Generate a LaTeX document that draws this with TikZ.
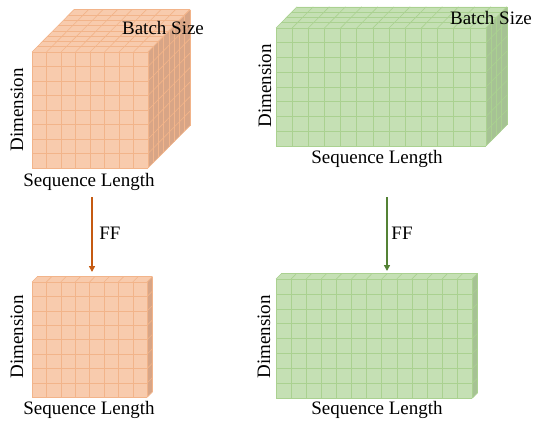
\documentclass[tikz,border=0pt]{standalone}
\usepackage{fontspec}
\setmainfont{Liberation Serif}
\usetikzlibrary{arrows.meta,positioning}
\definecolor{orgface}{HTML}{F8CBAD}
\definecolor{orgline}{HTML}{F2B48A}
\definecolor{orgside}{HTML}{D8A586}
\definecolor{orgarrow}{HTML}{C55A11}
\definecolor{grnface}{HTML}{C5E0B4}
\definecolor{grnline}{HTML}{AAD190}
\definecolor{grnside}{HTML}{A6C294}
\definecolor{grnarrow}{HTML}{548235}

% #1 x, #2 y (front top left), #3 cols, #4 rows, #5 cell w, #6 cell h, #7 layers, #8 colour prefix
\newcommand{\tensorblock}[8]{%
  \pgfmathsetmacro\bw{#3*#5}
  \pgfmathsetmacro\bh{#4*#6}
  \pgfmathsetmacro\dx{#7*5.25}
  \pgfmathsetmacro\dy{#7*5.3}
  \fill[#8face] (#1,#2) -- ++(\dx,-\dy) -- ++(\bw,0) -- ++(-\dx,\dy) -- cycle;
  \fill[#8side] ({#1+\bw},#2) -- ++(\dx,-\dy) -- ++(0,\bh) -- ++(-\dx,\dy) -- cycle;
  \fill[#8face] (#1,#2) rectangle ++(\bw,\bh);
  \begin{scope}[draw=#8line, line width=0.6pt]
    \foreach \i in {0,...,#3} {
      \draw ({#1+\i*#5},#2) -- ++(0,\bh);
      \draw ({#1+\i*#5},#2) -- ++(\dx,-\dy);
    }
    \foreach \j in {0,...,#4} {
      \draw (#1,{#2+\j*#6}) -- ++(\bw,0);
      \draw ({#1+\bw},{#2+\j*#6}) -- ++(\dx,-\dy);
    }
    \foreach \k in {0,...,#7} {
      \draw ({#1+\k*5.25},{#2-\k*5.3}) -- ++(\bw,0);
      \draw ({#1+\bw+\k*5.25},{#2-\k*5.3}) -- ++(0,\bh);
    }
  \end{scope}
}

\begin{document}
\begin{tikzpicture}[x=1pt, y=-1pt,
  font=\rmfamily\fontsize{19}{22}\selectfont,
  lbl/.style={inner sep=0pt, anchor=center},
  dimlbl/.style={lbl, rotate=90},
  ffarrow/.style={line width=1.6pt, -{Triangle[length=6pt,width=6pt]}}]
  \useasboundingbox (0,0) rectangle (534,421);

  % upper blocks
  \tensorblock{32}{52}{8}{8}{14.5}{14.5}{8}{org}
  \tensorblock{276}{28}{13}{8}{16.15}{14.75}{4}{grn}

  % lower blocks
  \tensorblock{32}{282}{8}{8}{14.4}{14.4}{1}{org}
  \tensorblock{276}{279}{13}{8}{15.1}{14.9}{1}{grn}

  % labels
  \node[lbl] (bs1) at (163,28) {Batch Size};
  \node[lbl] (sl1) at (89,182) {Sequence Length};
  \node[dimlbl] (dim1) at (17,110) {Dimension};
  \node[lbl] (bs2) at (491,18) {Batch Size};
  \node[lbl] (sl2) at (377,159) {Sequence Length};
  \node[dimlbl] (dim2) at (265,86) {Dimension};
  \node[lbl] (sl3) at (89,410) {Sequence Length};
  \node[dimlbl] (dim3) at (17,337) {Dimension};
  \node[lbl] (sl4) at (377,410) {Sequence Length};
  \node[dimlbl] (dim4) at (264,337) {Dimension};

  % feed-forward arrows
  \coordinate (ffa1) at (92,197);
  \coordinate (ffb1) at (92,272);
  \coordinate (ffa2) at (387,197);
  \coordinate (ffb2) at (387,271);
  \draw[ffarrow, orgarrow] (ffa1) -- (ffb1);
  \draw[ffarrow, grnarrow] (ffa2) -- (ffb2);
  \node[lbl] (ff1) at (110,233) {FF};
  \node[lbl] (ff2) at (402,233) {FF};
\end{tikzpicture}
\end{document}
